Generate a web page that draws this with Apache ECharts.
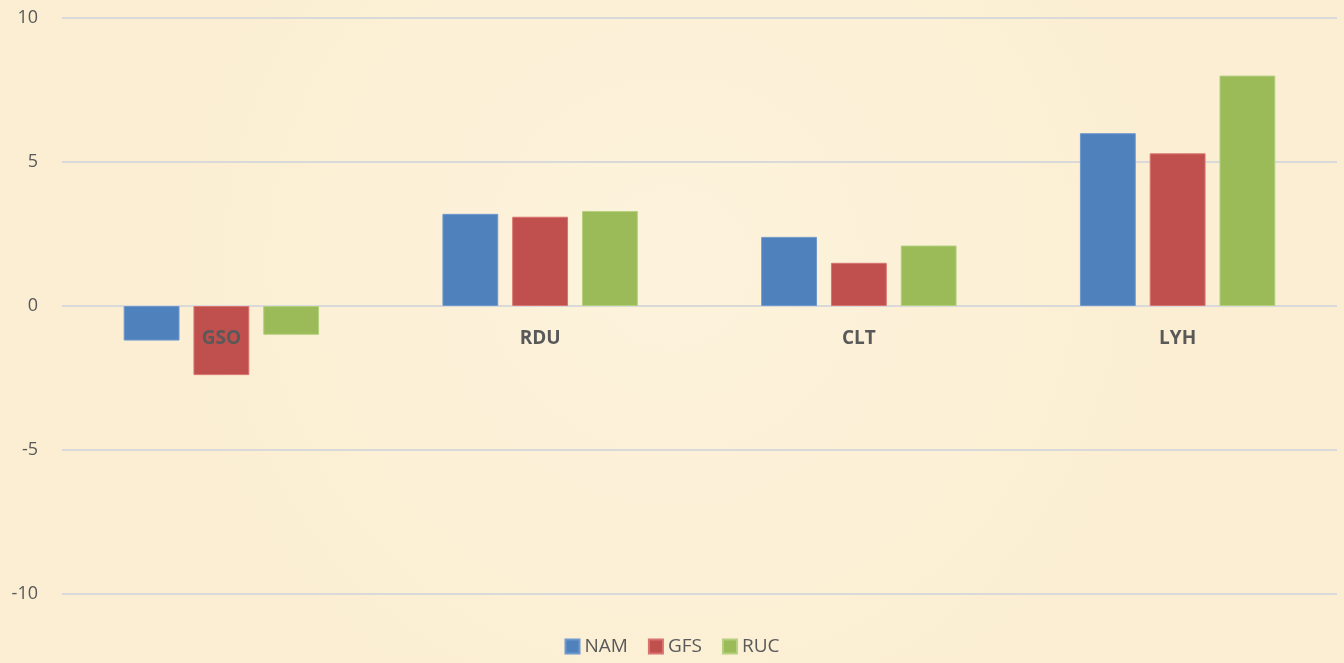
<!DOCTYPE html>
<html>
<head>
<meta charset="utf-8">
<script src="https://cdn.jsdelivr.net/npm/echarts@6/dist/echarts.min.js"></script>
<style>
html,body{margin:0;padding:0;}
#main{width:1344px;height:663px;background:#fcf1d8;}
</style>
</head>
<body>
<div id="main"></div>
<script>
// 站点与模式数据
const categories = ['GSO', 'RDU', 'CLT', 'LYH'];
const namData = [-1.2, 3.2, 2.4, 6.0];
const gfsData = [-2.4, 3.1, 1.5, 5.3];
const rucData = [-1.0, 3.3, 2.1, 8.0];

const myChart = echarts.init(document.getElementById('main'));
const font = '"Open Sans", "Liberation Sans", sans-serif';

function barSeries(name, data, color, border) {
    return {
        name: name,
        type: 'bar',
        data: data,
        barGap: '25%',
        barCategoryGap: '38.7%',
        itemStyle: { color: color, borderColor: border, borderWidth: 1 }
    };
}

myChart.setOption({
    backgroundColor: {
        type: 'radial', x: 0.5, y: 0.4, r: 0.8,
        colorStops: [
            { offset: 0, color: '#fdf3dc' },
            { offset: 1, color: '#fbeed2' }
        ]
    },
    animation: false,
    textStyle: { fontFamily: font },
    grid: { left: 62, right: 7, top: 18, bottom: 69 },
    legend: {
        bottom: 2,
        itemWidth: 14,
        itemHeight: 14,
        itemGap: 20,
        icon: 'rect',
        textStyle: { color: '#595959', fontSize: 19, fontFamily: font }
    },
    xAxis: {
        type: 'category',
        data: categories,
        z: 10,
        axisLine: { show: false },
        axisTick: { show: false },
        // 标签画在零线下方，盖在柱子上
        axisLabel: { color: '#595959', fontSize: 19, fontWeight: 'bold', margin: -265 }
    },
    yAxis: {
        type: 'value',
        min: -10,
        max: 10,
        interval: 5,
        axisLine: { show: false },
        axisTick: { show: false },
        axisLabel: { color: '#595959', fontSize: 18, margin: 24 },
        splitLine: { lineStyle: { color: '#d9d9d9', width: 2 } }
    },
    series: [
        barSeries('NAM', namData, '#4f81bd', '#6f98cc'),
        barSeries('GFS', gfsData, '#c0504d', '#d87370'),
        barSeries('RUC', rucData, '#9bbb59', '#b5d07e')
    ]
});
window.addEventListener('resize', function () { myChart.resize(); });
</script>
</body>
</html>
